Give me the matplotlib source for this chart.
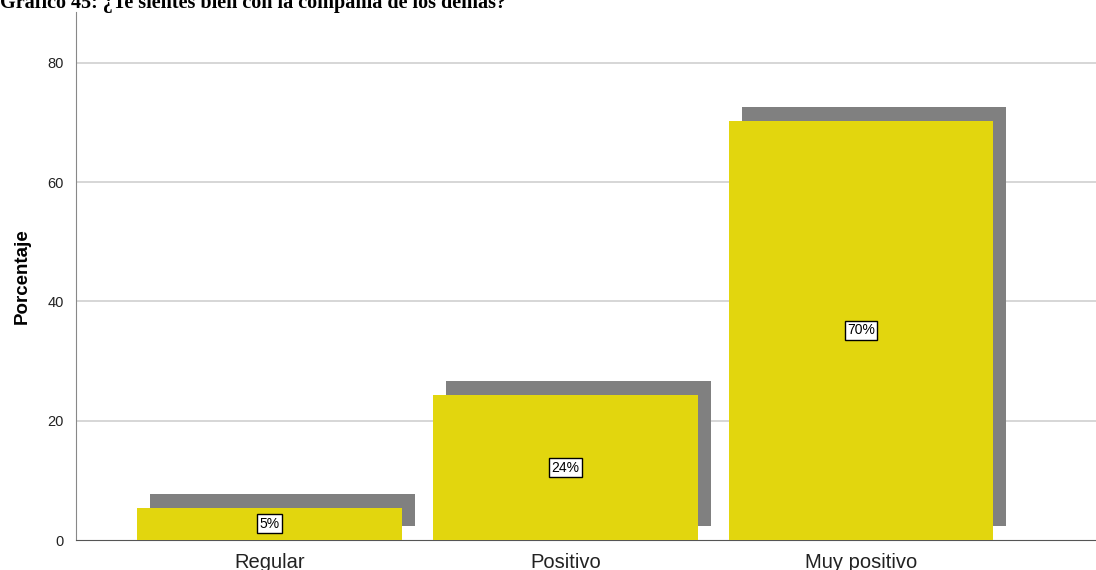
import matplotlib
matplotlib.use("Agg")
import matplotlib.pyplot as plt
from matplotlib.transforms import ScaledTranslation

categories = ["Regular", "Positivo", "Muy positivo"]
values = [5.4, 24.3, 70.3]
labels = ["5%", "24%", "70%"]
yticks = [0, 20, 40, 60, 80]

fig = plt.figure(figsize=(10.96, 5.70), dpi=100)
ax = fig.add_axes([76/1096, 30/570, 1 - 76/1096, (540-12)/570])

x = list(range(len(categories)))
width = 0.896
shadow_tr = ax.transData + ScaledTranslation(13/100, 14/100, fig.dpi_scale_trans)
ax.bar(x, values, width=width, color="#808080", transform=shadow_tr, zorder=2, clip_on=False)
ax.bar(x, values, width=width, color="#E2D60E", zorder=3)

for xi, v, lab in zip(x, values, labels):
    ax.text(xi, v/2, lab, ha="center", va="center", fontsize=10, family="Liberation Sans",
            zorder=5, bbox=dict(boxstyle="square,pad=0.18", fc="white", ec="black", lw=1.0))

ax.set_ylim(0, 88.5)
ax.set_xlim(-0.656, 2.795)
ax.set_yticks(yticks)
ax.set_yticklabels([str(t) for t in yticks], fontsize=10.5, family="Liberation Sans", color="#222222")
ax.set_xticks(x)
ax.set_xticklabels(categories, fontsize=14.5, family="Liberation Sans", color="#222222")
ax.tick_params(axis="y", length=0, pad=9)
ax.tick_params(axis="x", length=0, pad=9)
for t in yticks[1:]:
    ax.axhline(t, color="#cfcfcf", lw=1.2, zorder=1)
ax.set_ylabel("Porcentaje", fontsize=13.5, fontweight="bold", family="Liberation Sans", labelpad=12)
for s in ["top", "right"]:
    ax.spines[s].set_visible(False)
ax.spines["left"].set_color("#888888")
ax.spines["bottom"].set_color("#555555")

fig.text(0.0, 1 - 8/570, "Gráfico 45: ¿Te sientes bien con la compañía de los demás?",
         ha="left", va="baseline", fontsize=14.5, fontweight="bold", family="Liberation Serif")

fig.savefig("out.png", dpi=100)
